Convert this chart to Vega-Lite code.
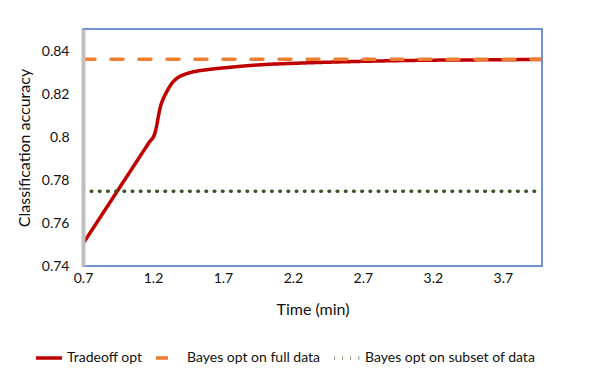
{
  "$schema": "https://vega.github.io/schema/vega-lite/v6.json",
  "width": 459,
  "height": 237,
  "autosize": {"type": "none"},
  "padding": {"left": 83, "top": 29, "right": 50, "bottom": 106},
  "background": "white",
  "config": {
    "font": "Lato",
    "view": {"stroke": "#4472C4", "strokeWidth": 1.5},
    "axis": {"labelFont": "Lato", "titleFont": "Lato", "labelColor": "#111", "titleColor": "#111", "titleFontWeight": "normal", "grid": false, "ticks": false, "labelFlush": false}
  },
  "data": {
    "values": [
      {"series": "Tradeoff opt", "t": 0.7, "acc": 0.7504},
      {"series": "Tradeoff opt", "t": 0.85, "acc": 0.7654},
      {"series": "Tradeoff opt", "t": 1.0, "acc": 0.7804},
      {"series": "Tradeoff opt", "t": 1.1, "acc": 0.7904},
      {"series": "Tradeoff opt", "t": 1.17, "acc": 0.7974},
      {"series": "Tradeoff opt", "t": 1.214, "acc": 0.802},
      {"series": "Tradeoff opt", "t": 1.226, "acc": 0.8052},
      {"series": "Tradeoff opt", "t": 1.238, "acc": 0.8095},
      {"series": "Tradeoff opt", "t": 1.25, "acc": 0.8134},
      {"series": "Tradeoff opt", "t": 1.274, "acc": 0.8181},
      {"series": "Tradeoff opt", "t": 1.298, "acc": 0.8212},
      {"series": "Tradeoff opt", "t": 1.334, "acc": 0.8251},
      {"series": "Tradeoff opt", "t": 1.369, "acc": 0.8274},
      {"series": "Tradeoff opt", "t": 1.429, "acc": 0.8294},
      {"series": "Tradeoff opt", "t": 1.488, "acc": 0.8305},
      {"series": "Tradeoff opt", "t": 1.607, "acc": 0.8317},
      {"series": "Tradeoff opt", "t": 1.726, "acc": 0.8325},
      {"series": "Tradeoff opt", "t": 1.964, "acc": 0.8338},
      {"series": "Tradeoff opt", "t": 2.25, "acc": 0.8346},
      {"series": "Tradeoff opt", "t": 2.5, "acc": 0.8351},
      {"series": "Tradeoff opt", "t": 2.75, "acc": 0.8355},
      {"series": "Tradeoff opt", "t": 3.0, "acc": 0.8358},
      {"series": "Tradeoff opt", "t": 3.25, "acc": 0.836},
      {"series": "Tradeoff opt", "t": 3.5, "acc": 0.8361},
      {"series": "Tradeoff opt", "t": 3.98, "acc": 0.8363},
      {"series": "Bayes opt on full data", "t": 0.7, "acc": 0.8364},
      {"series": "Bayes opt on full data", "t": 3.98, "acc": 0.8364},
      {"series": "Bayes opt on subset of data", "t": 0.7, "acc": 0.7748},
      {"series": "Bayes opt on subset of data", "t": 3.98, "acc": 0.7748}
    ]
  },
  "mark": {"type": "line", "interpolate": "monotone", "strokeWidth": 3.5, "strokeCap": "round", "clip": true},
  "encoding": {
    "x": {
      "field": "t", "type": "quantitative",
      "scale": {"domain": [0.7, 3.98], "nice": false, "zero": false},
      "axis": {"title": "Time (min)", "values": [0.7, 1.2, 1.7, 2.2, 2.7, 3.2, 3.7], "format": ".1f", "domain": false, "labelFontSize": 14, "labelPadding": 5, "titleFontSize": 16, "titlePadding": 16}
    },
    "y": {
      "field": "acc", "type": "quantitative",
      "scale": {"domain": [0.74, 0.8505], "nice": false, "zero": false},
      "axis": {"title": "Classification accuracy", "values": [0.74, 0.76, 0.78, 0.8, 0.82, 0.84], "format": "~g", "domain": true, "domainColor": "#BFBFBF", "domainWidth": 4, "zindex": 1, "labelFontSize": 14, "labelPadding": 14, "titleFontSize": 16, "titlePadding": 9}
    },
    "color": {
      "field": "series", "type": "nominal",
      "scale": {"domain": ["Tradeoff opt", "Bayes opt on full data", "Bayes opt on subset of data"], "range": ["#C00000", "#ED7D31", "#375623"]},
      "legend": {"title": null, "orient": "none", "legendX": -49, "legendY": 314, "direction": "horizontal", "symbolType": "stroke", "symbolSize": 676, "symbolStrokeWidth": 3.5, "symbolOpacity": 1, "labelFontSize": 14, "labelLimit": 400, "labelColor": "#111", "labelOffset": 3, "columnPadding": 6}
    },
    "strokeDash": {
      "field": "series", "type": "nominal",
      "scale": {"domain": ["Tradeoff opt", "Bayes opt on full data", "Bayes opt on subset of data"], "range": [[1, 0], [12, 16], [0.6, 7.6]]},
      "legend": {"title": null, "orient": "none", "legendX": -49, "legendY": 314, "direction": "horizontal", "symbolType": "stroke", "symbolSize": 676, "symbolStrokeWidth": 3.5, "symbolOpacity": 1, "labelFontSize": 14, "labelLimit": 400, "labelColor": "#111", "labelOffset": 3, "columnPadding": 6}
    }
  }
}
